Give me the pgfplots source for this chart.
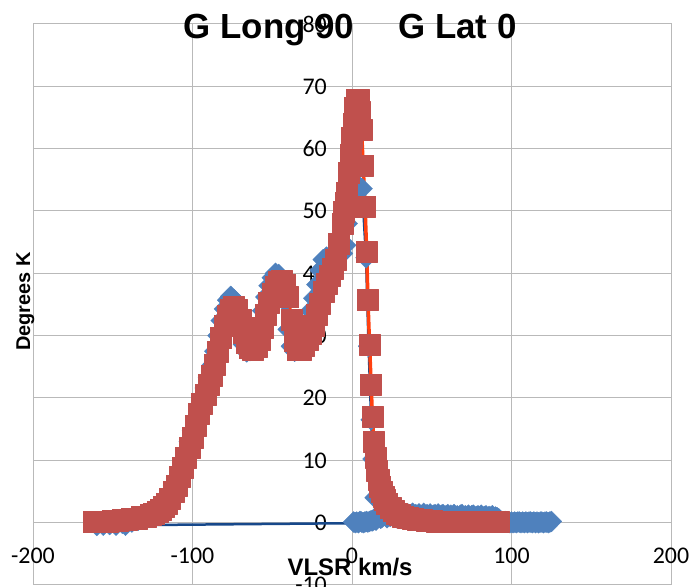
\documentclass[border=0pt]{standalone}
\usepackage{fontspec}
\setmainfont{Liberation Sans}
\newfontfamily\tickfont{Carlito}
\usepackage{pgfplots}
\pgfplotsset{compat=1.18}

\definecolor{rawblue}{RGB}{79,129,189}
\definecolor{rawline}{RGB}{23,72,138}
\definecolor{fitred}{RGB}{192,80,77}
\definecolor{fitline}{RGB}{255,64,16}
\definecolor{gridgray}{RGB}{185,185,185}

\begin{document}
\begin{tikzpicture}
\begin{axis}[
  scale only axis, width=638bp, height=561bp,
  xmin=-200, xmax=200, ymin=-10, ymax=80,
  xtick={-200,-100,...,200}, ytick={-10,0,...,80},
  grid=major, grid style={gridgray, line width=1bp},
  axis line style={gridgray, line width=1bp},
  major tick length=0pt,
  /pgf/number format/assume math mode=true,
  tick label style={font=\tickfont\fontsize{24}{24}\selectfont, inner sep=0pt},
  xticklabel style={anchor=north, yshift=37bp},
  yticklabel style={anchor=east, xshift=294bp},
  title={G Long 90\hspace{44bp}G Lat 0},
  title style={font=\bfseries\fontsize{35}{35}\selectfont, at={(rel axis cs:0.497,0.9626)}, anchor=base, inner sep=0pt},
  xlabel={VLSR km/s},
  xlabel style={font=\bfseries\fontsize{24}{24}\selectfont, at={(rel axis cs:0.497,0.0178)}, anchor=base, inner sep=0pt},
  ylabel={Degrees K},
  ylabel style={font=\bfseries\fontsize{20}{20}\selectfont, at={(rel axis cs:-0.012,0.505)}, anchor=center, inner sep=0pt},
]
\coordinate (pa) at (rel axis cs:0,0);
\coordinate (pb) at (rel axis cs:1,1);

% measured spectrum: baseline sweep first, then the full profile sweep
\addplot[color=rawline, line width=2.5bp, line join=round,
  mark=diamond*, mark size=10.5bp,
  mark options={fill=rawblue, draw=rawblue, xscale=1.33, solid, line width=0.3bp}]
table {
x y
1 0.1
2 0.0
3 0.1
4 0.0
5 0.2
6 0.1
7 0.0
8 0.1
9 0.2
10 0.1
11 0.2
12 0.3
13 0.3
14 0.5
15 0.4
16 0.8
17 1.2
18 0.7
19 0.9
20 1.4
21 1.1
22 0.8
23 1.3
24 1.0
25 1.5
26 0.9
27 1.2
28 0.8
29 1.4
30 1.1
31 0.7
32 1.3
33 1.5
34 1.0
35 1.4
36 0.8
37 1.2
38 1.5
39 0.9
40 1.3
41 1.1
42 1.4
43 0.8
44 1.2
45 1.5
46 0.9
47 1.3
48 1.0
49 1.4
50 0.7
51 1.2
52 1.3
53 0.8
54 1.4
55 1.0
56 1.2
57 1.3
58 0.6
59 1.1
60 1.3
61 0.9
62 1.2
63 0.7
64 1.3
65 1.0
66 1.1
67 0.8
68 1.2
69 1.3
70 0.7
71 1.1
72 1.0
73 1.2
74 0.8
75 1.1
76 1.2
77 0.6
78 1.0
79 1.1
80 0.9
81 1.2
82 0.7
83 1.0
84 1.1
85 0.8
86 1.0
87 0.9
88 1.1
89 0.6
90 0.9
91 0.8
92 0.6
93 0.3
94 0.2
95 0.1
96 0.2
97 0.1
98 0.1
99 0.0
100 0.1
101 0.0
102 0.1
103 0.0
104 0.1
105 0.1
106 0.0
107 0.1
108 0.0
109 0.1
110 0.0
111 0.1
112 0.1
113 0.0
114 0.1
115 0.0
116 0.1
117 0.0
118 0.1
119 0.1
120 0.0
121 0.1
122 0.1
123 0.0
124 0.1
125 0.2
-160 -0.45
-158 0.1
-156 -0.4
-154 0.2
-152 -0.3
-150 0.1
-148 -0.4
-146 0.3
-144 -0.1
-142 -0.4
-140 0.3
-138 0.1
-136 0.5
-134 0.4
-132 0.8
-130 1.0
-128 1.1
-126 1.5
-124 1.9
-122 2.3
-120 2.8
-118 3.3
-116 4.0
-114 4.8
-112 5.9
-110 7.0
-108 8.3
-106 9.8
-104 11.3
-102 13.0
-100 14.8
-98 16.5
-96 18.3
-94 20.0
-92 21.6
-90 23.3
-88 25.2
-86 27.5
-84 30.0
-82 32.4
-80 34.3
-78 35.7
-76 36.3
-74 35.8
-72 33.9
-70 31.0
-68 28.6
-66 27.4
-64 27.6
-62 28.4
-60 29.8
-58 31.8
-56 34.0
-54 36.2
-52 38.0
-50 39.3
-48 40.0
-46 39.8
-44 38.6
-42 35.5
-40 31.0
-38 28.3
-36 27.5
-34 27.8
-32 28.8
-30 30.2
-28 32.0
-26 34.0
-24 36.0
-22 38.2
-20 40.5
-18 42.2
-16 42.6
-14 41.8
-12 41.5
-10 42.0
-8 42.8
-6 43.2
-4 44.5
-3 48.0
-2 53.8
-1 53.5
0 53.9
1 53.6
2 53.8
3 54.0
4 53.7
5 53.8
6.3 53.6
8.8 42.5
10.4 28.3
12.0 16.5
13.2 10.2
14.5 4.0
15.5 1.0
};

% fitted profile
\addplot[color=fitline, line width=3.5bp, line join=round,
  mark=square*, mark size=10.5bp,
  mark options={fill=fitred, draw=fitred, solid, line width=0.5bp}]
table {
x y
-162 0.1
-159 0.1
-156 0.2
-153 0.2
-150 0.3
-147 0.3
-144 0.4
-141 0.5
-138 0.6
-135 0.7
-132 0.9
-129 1.0
-126 1.3
-124 1.5
-122 1.8
-120 2.1
-118 2.5
-116 3.0
-114 3.9
-112 4.9
-110 6.0
-108 7.4
-106 8.8
-104 10.4
-102 12.0
-100 13.7
-98 15.5
-96 17.4
-94 19.1
-92 20.6
-90 22.2
-88 23.6
-86 25.3
-84 27.4
-82 29.6
-80 31.6
-78 33.2
-76 34.2
-74 34.6
-72 34.1
-70 32.6
-68 30.5
-66 28.8
-64 28.0
-62 27.8
-60 28.2
-58 29.4
-56 31.3
-54 33.4
-52 35.3
-50 36.8
-48 37.9
-46 38.6
-44 38.8
-42 38.2
-40 36.2
-38 32.6
-36 29.2
-34 27.7
-32 27.8
-30 28.4
-28 29.3
-26 30.3
-24 31.6
-22 33.3
-20 35.2
-18 37.0
-16 38.4
-14 39.6
-12 40.8
-10 42.2
-8 44.8
-6 48.0
-5 49.8
-4 51.3
-3 53.0
-2 56.2
-1 59.0
0 61.8
1 64.0
2 66.6
3 67.8
4 67.8
5 66.0
6 63.0
7 57.3
8.2 50.7
9.2 43.4
10.0 35.7
11.0 28.6
12.0 22.2
12.8 17.0
13.6 13.0
14.6 10.4
15.6 8.4
16.6 6.9
17.6 5.8
18.6 4.9
19.6 4.2
20.6 3.6
22 3.0
24 2.4
26 1.9
28 1.5
30 1.2
32 1.0
35 0.8
38 0.6
41 0.5
44 0.4
47 0.3
50 0.25
53 0.2
56 0.2
59 0.15
62 0.1
65 0.1
68 0.1
71 0.1
74 0.1
77 0.1
80 0.1
83 0.1
86 0.1
89 0.1
92 0.1
};
\end{axis}
\pgfresetboundingbox
\path ([shift={(-33bp,-2bp)}]pa) rectangle ([shift={(22bp,24bp)}]pb);
\end{tikzpicture}
\end{document}
